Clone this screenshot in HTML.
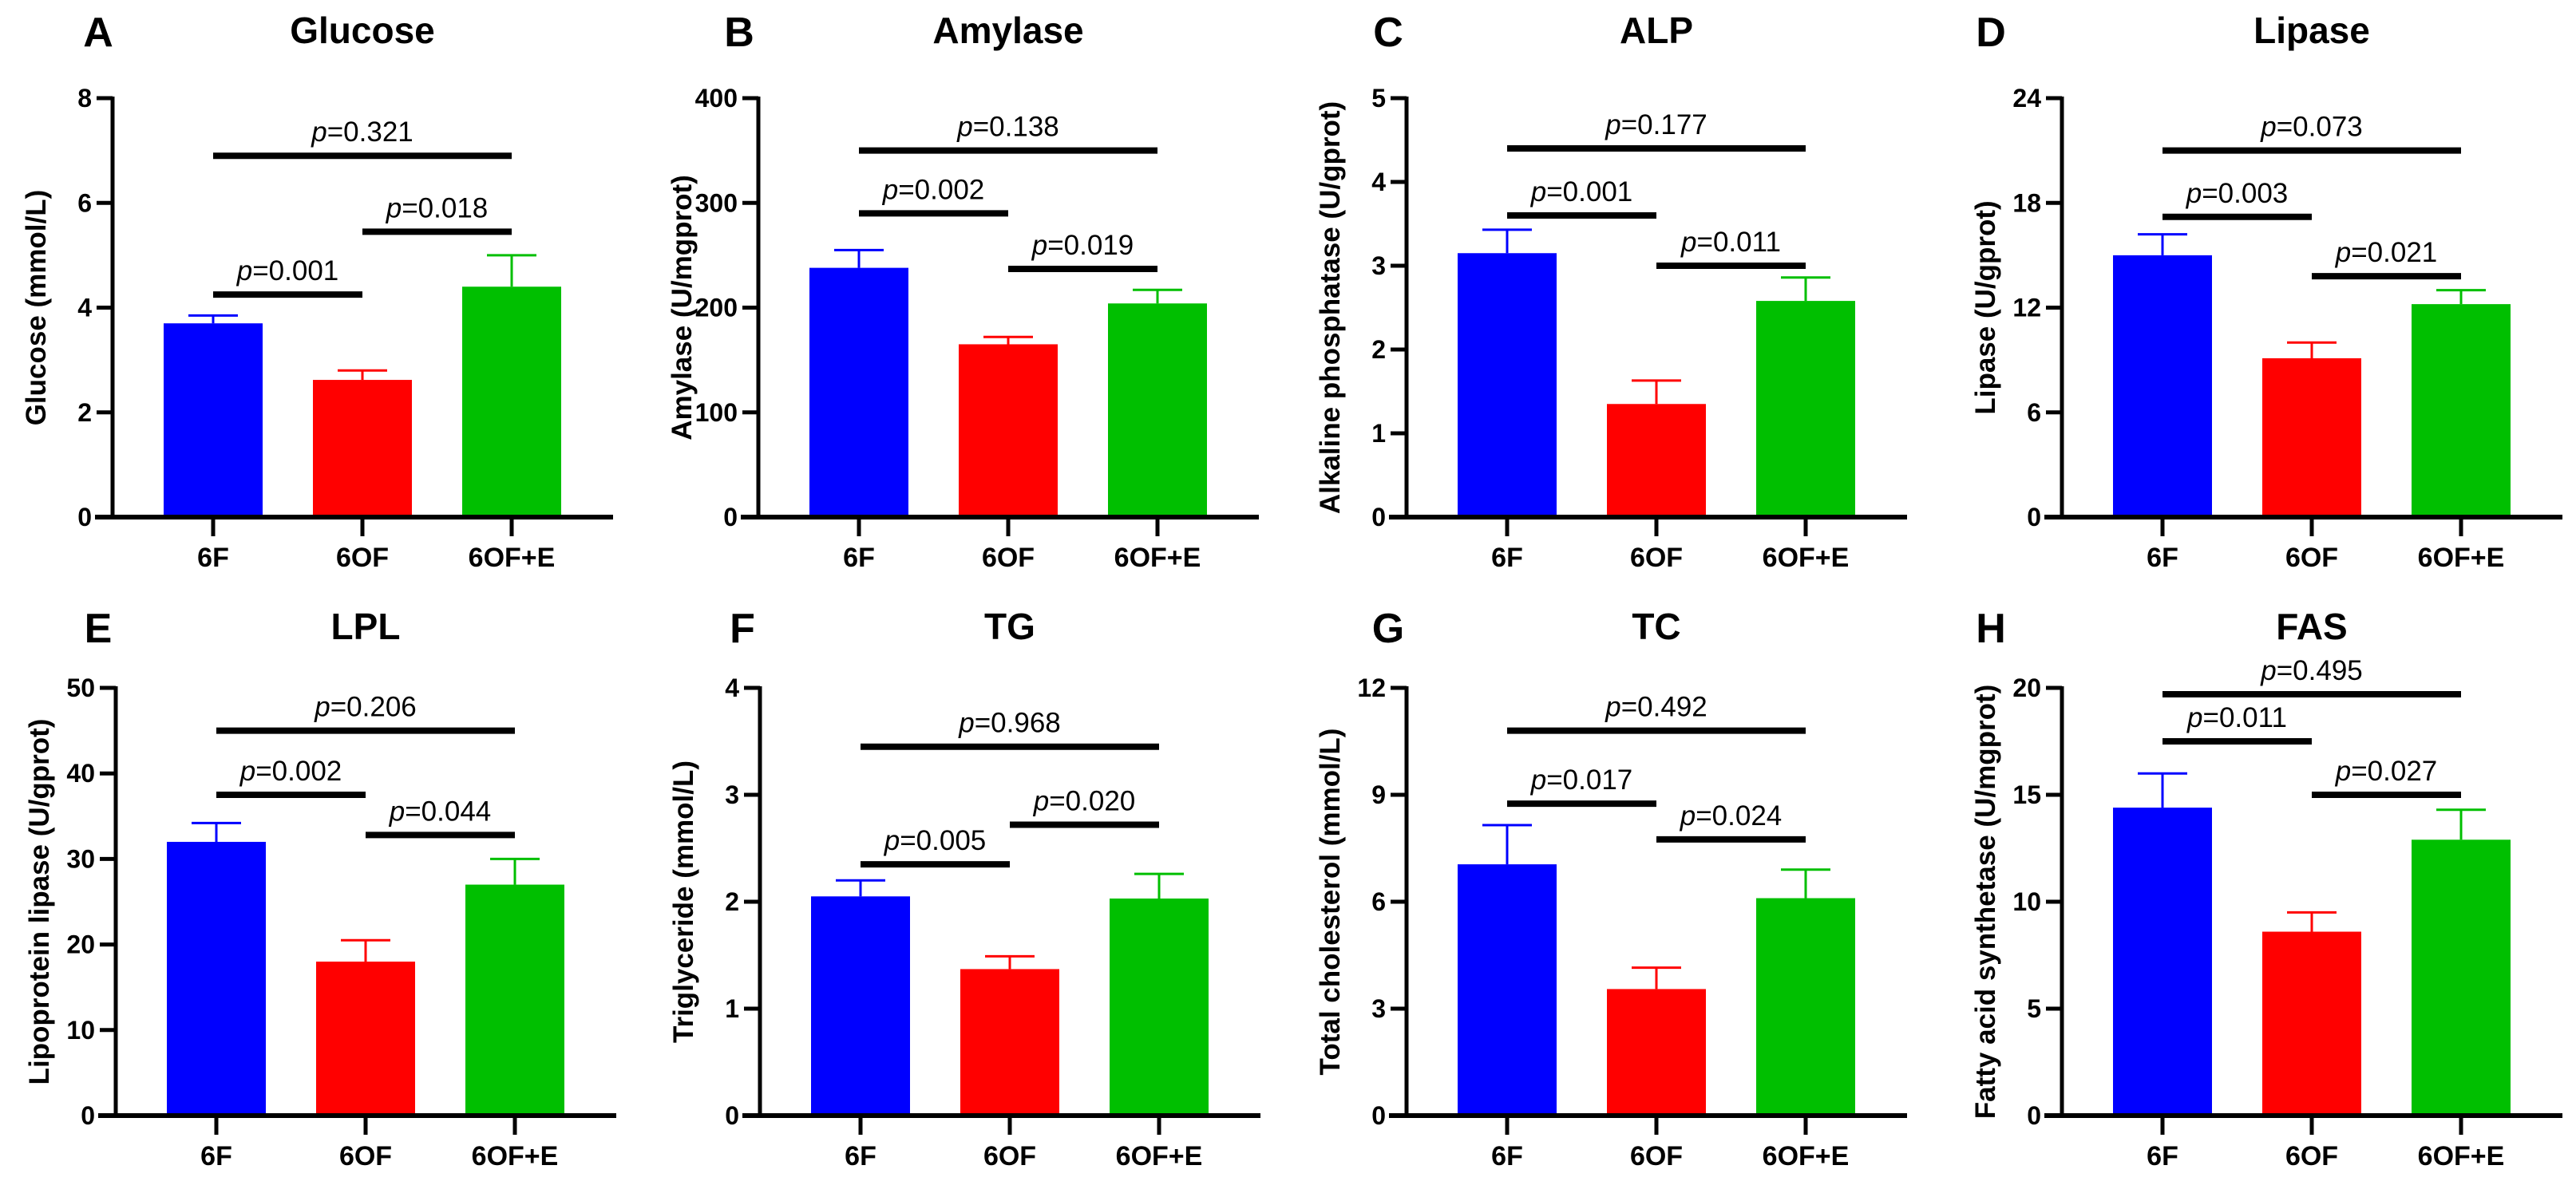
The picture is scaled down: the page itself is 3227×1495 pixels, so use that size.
<!DOCTYPE html>
<html><head><meta charset="utf-8">
<style>
html,body{margin:0;padding:0;background:#fff;}
svg{display:block;font-family:"Liberation Sans",Arial,sans-serif;}
</style></head>
<body>
<svg id="fig" width="3227" height="1495" viewBox="0 0 3227 1495" xmlns="http://www.w3.org/2000/svg"></svg>
<script>
// Data
const categories = ["6F","6OF","6OF+E"];
const panelLetters = ["A","B","C","D","E","F","G","H"];
const panelTitles = ["Glucose","Amylase","ALP","Lipase","LPL","TG","TC","FAS"];
const yTitles = ["Glucose (mmol/L)","Amylase (U/mgprot)","Alkaline phosphatase (U/gprot)","Lipase (U/gprot)","Lipoprotein lipase (U/gprot)","Triglyceride (mmol/L)","Total cholesterol (mmol/L)","Fatty acid synthetase (U/mgprot)"];
const yMax = [8,400,5,24,50,4,12,20];
const yStep = [2,100,1,6,10,1,3,5];
const means = [[3.7,2.62,4.4],[238,165,204],[3.15,1.35,2.58],[15,9.1,12.2],[32,18,27],[2.05,1.37,2.03],[7.05,3.55,6.1],[14.4,8.6,12.9]];
const errs = [[0.15,0.18,0.6],[17,7,13],[0.28,0.28,0.28],[1.2,0.9,0.8],[2.2,2.5,3],[0.15,0.12,0.23],[1.1,0.6,0.8],[1.6,0.9,1.4]];
// p-values: [6F vs 6OF+E, 6F vs 6OF, 6OF vs 6OF+E]
const pValues = [["0.321","0.001","0.018"],["0.138","0.002","0.019"],["0.177","0.001","0.011"],["0.073","0.003","0.021"],["0.206","0.002","0.044"],["0.968","0.005","0.020"],["0.492","0.017","0.024"],["0.495","0.011","0.027"]];
const bracketY = [[6.9,4.25,5.45],[350,290,237],[4.4,3.6,3.0],[21,17.2,13.8],[45,37.5,32.8],[3.45,2.35,2.72],[10.8,8.75,7.75],[19.7,17.5,15]];

const colors = ["#0000ff","#ff0000","#00bf00"];
const svg = document.getElementById('fig');
const NS = "http://www.w3.org/2000/svg";
function mk(tag, attrs, parent){
  const e = document.createElementNS(NS, tag);
  for (const k in attrs) e.setAttribute(k, attrs[k]);
  (parent||svg).appendChild(e);
  return e;
}
const axisXs = [141,950,1762,2583,145,952,1762,2583];
const letterXs = [123,926,1739,2494,123,930,1739,2494];
const topYs = [123,123,123,123,862,862,862,862];
const zeroYs = [648,648,648,648,1398,1398,1398,1398];

for (let p=0;p<8;p++){
  const g = mk('g',{});
  
  
  const ax = axisXs[p], y0 = zeroYs[p], yT = topYs[p];
  const yS = v => y0 - (v/yMax[p])*(y0-yT);
  const xS = i => ax + 126 + i*187;
  const row = p<4 ? 0 : 1;
  const titleY = row===0 ? 54 : 801;
  const L = mk('text',{x:letterXs[p],y:titleY+4,'font-size':52,'font-weight':'bold','text-anchor':'middle'},g);
  L.textContent = panelLetters[p];
  
  
  const T = mk('text',{x:ax+313,y:titleY,'font-size':46,'font-weight':'bold','text-anchor':'middle'},g);
  T.textContent = panelTitles[p];
  
  
  for (let i=0;i<3;i++){
    const top = yS(means[p][i]), et = yS(means[p][i]+errs[p][i]);
    const b = mk('rect',{x:xS(i)-62,y:top,width:124,height:y0-top,fill:colors[i]},g);
    
    
    const e = mk('path',{d:`M${xS(i)},${top} V${et} M${xS(i)-31},${et} H${xS(i)+31}`,stroke:colors[i],'stroke-width':3,fill:'none'},g);
    
    
  }
  const ya = mk('path',{d:`M${ax},${yT-2} V${y0}`,stroke:'#000','stroke-width':5},g);
  
  
  const xa = mk('path',{d:`M${ax-22},${y0} H${ax+627}`,stroke:'#000','stroke-width':6},g);
  
  
  for (let v=0; v<=yMax[p]+1e-9; v+=yStep[p]){
    const y = yS(v);
    mk('path',{d:`M${ax-20},${y} H${ax}`,stroke:'#000','stroke-width':5},g);
    const t = mk('text',{x:ax-26,y:y+11,'font-size':32,'font-weight':'bold','text-anchor':'end'},g);
    t.textContent = String(v);
    
    
  }
  for (let i=0;i<3;i++){
    mk('path',{d:`M${xS(i)},${y0} V${y0+24}`,stroke:'#000','stroke-width':5},g);
    const t = mk('text',{x:xS(i),y:y0+62,'font-size':34,'font-weight':'bold','text-anchor':'middle'},g);
    t.textContent = categories[i];
    
    
  }
  const yt = mk('text',{x:0,y:0,'font-size':35,'font-weight':'bold','text-anchor':'middle',transform:`translate(${ax-84},${(yT+y0)/2}) rotate(-90)`},g);
  yt.textContent = yTitles[p];
  
  
  const pairs = [[0,2],[0,1],[1,2]];
  for (let k=0;k<3;k++){
    const [a,b] = pairs[k];
    const y = yS(bracketY[p][k]);
    const br = mk('path',{d:`M${xS(a)},${y} H${xS(b)}`,stroke:'#000','stroke-width':8},g);
    
    
    const t = mk('text',{x:(xS(a)+xS(b))/2,y:y-18,'font-size':35,'text-anchor':'middle'},g);
    const ti = mk('tspan',{'font-style':'italic'},t); ti.textContent='p';
    const tr = mk('tspan',{},t); tr.textContent='='+pValues[p][k];
    
    
  }
}
</script>
</body></html>
